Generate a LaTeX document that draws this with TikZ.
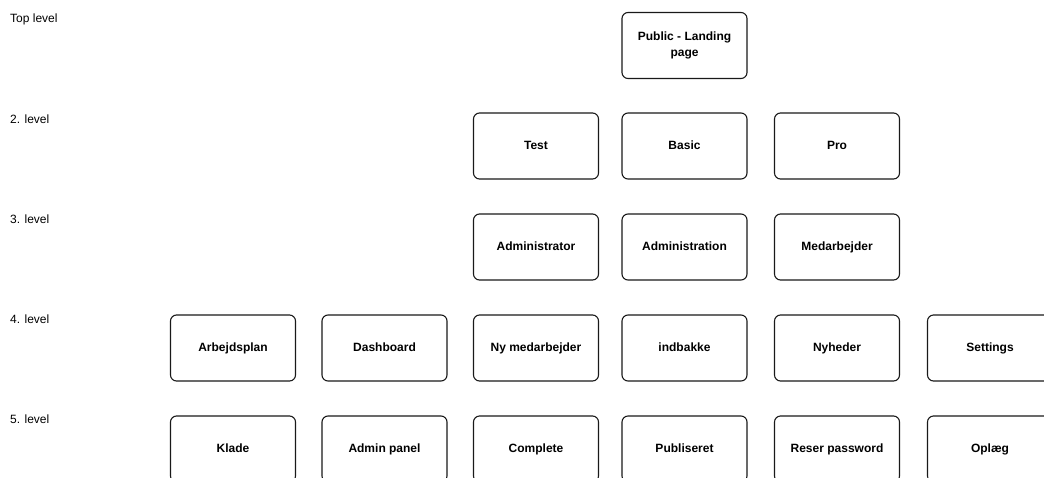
\documentclass[tikz,border=0pt]{standalone}
\usepackage{fontspec}
\setmainfont{Liberation Sans}
\begin{document}
\begin{tikzpicture}[x=1pt,y=-1pt,
  boxbase/.style={draw=black!90, rounded corners=6pt, line width=1.1pt, minimum width=125pt, minimum height=66pt, align=center, font=\fontsize{12}{16}\selectfont\bfseries, inner sep=0pt},
  box/.style={boxbase, text height=9pt, text depth=2.5pt},
  lvl/.style={anchor=west, font=\fontsize{12}{14}\selectfont, inner sep=0pt, text height=9pt, text depth=2.5pt}]
\useasboundingbox (0,0) rectangle (1044,477);
\clip (0,0) rectangle (1044,477);
% level labels
\node[lvl] (l1) at (10,19) {Top level};
\node[lvl] (l2) at (10,120) {2. level};
\node[lvl] (l3) at (10,220) {3. level};
\node[lvl] (l4) at (10,320) {4. level};
\node[lvl] (l5) at (10,420) {5. level};
% row 1
\node[boxbase] (pub) at (684.5,45.5) {Public - Landing\\page};
% row 2
\node[box] (test) at (536,146) {Test};
\node[box] (basic) at (684.5,146) {Basic};
\node[box] (pro) at (837,146) {Pro};
% row 3
\node[box] (admr) at (536,247) {Administrator};
\node[box] (admn) at (684.5,247) {Administration};
\node[box] (med) at (837,247) {Medarbejder};
% row 4
\node[box] (arb) at (233,348) {Arbejdsplan};
\node[box] (dash) at (384.5,348) {Dashboard};
\node[box] (nym) at (536,348) {Ny medarbejder};
\node[box] (indb) at (684.5,348) {indbakke};
\node[box] (nyh) at (837,348) {Nyheder};
\node[box] (set) at (990,348) {Settings};
% row 5
\node[box] (klade) at (233,449) {Klade};
\node[box] (admp) at (384.5,449) {Admin panel};
\node[box] (compl) at (536,449) {Complete};
\node[box] (publ) at (684.5,449) {Publiseret};
\node[box] (reser) at (837,449) {Reser password};
\node[box] (oplaeg) at (990,449) {Oplæg};
\end{tikzpicture}
\end{document}
